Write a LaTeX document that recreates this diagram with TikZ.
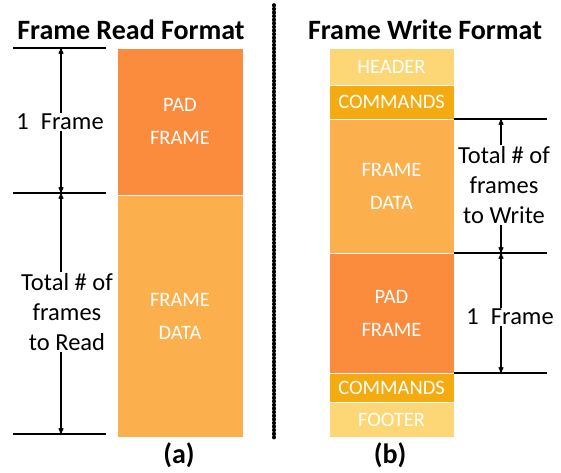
\documentclass[tikz,border=0pt]{standalone}
\usepackage{fontspec}
\setmainfont{Carlito}
\usetikzlibrary{
  positioning,
  arrows
}
\definecolor{padcol}{RGB}{251,139,61}
\definecolor{datacol}{RGB}{251,176,77}
\definecolor{hdrcol}{RGB}{253,214,117}
\definecolor{cmdcol}{RGB}{243,171,17}
\tikzset{
  >=stealth',
  node distance=0pt,
  block/.style={draw=white, line width=0.8pt, outer sep=0pt, inner sep=0pt,
    align=center, text=white, font=\fontsize{20.5}{33}\selectfont},
  readblk/.style={block, minimum width=126pt},
  writeblk/.style={block, minimum width=125pt},
  dimline/.style={line width=1.8pt},
  dimarrow/.style={->, line width=1.1pt},
  lbl/.style={align=center, inner sep=1pt, font=\fontsize{24.5}{30}\selectfont},
  title/.style={font=\fontsize{28}{30}\selectfont\bfseries}
}

\begin{document}
\begin{tikzpicture}[x=1pt, y=-1pt]
    \useasboundingbox (0,0) rectangle (561,472);
    % titles
    \node[title] (rtitle) at (131,30) {Frame Read Format};
    \node[title] (wtitle) at (425,30) {Frame Write Format};
    % read format
    \node[readblk, fill=padcol, minimum height=147pt, anchor=north] (rpad) at (180,48) {PAD\\FRAME};
    \node[readblk, fill=datacol, minimum height=242pt, below=of rpad] (rdata) {FRAME\\DATA};
    % write format
    \node[writeblk, fill=hdrcol, minimum height=37pt, anchor=north] (whdr) at (391.5,48) {HEADER};
    \node[writeblk, fill=cmdcol, minimum height=34pt, below=of whdr] (wcmd1) {COMMANDS};
    \node[writeblk, fill=datacol, minimum height=134pt, below=of wcmd1] (wdata) {FRAME\\DATA};
    \node[writeblk, fill=padcol, minimum height=120pt, below=of wdata] (wpad) {PAD\\FRAME};
    \node[writeblk, fill=cmdcol, minimum height=29pt, below=of wpad] (wcmd2) {COMMANDS};
    \node[writeblk, fill=hdrcol, minimum height=35pt, below=of wcmd2] (wftr) {FOOTER};
    % dimension lines, read side
    \coordinate (rl1) at (13,48);  \coordinate (rr1) at (106,48);
    \coordinate (rl2) at (13,193); \coordinate (rr2) at (106,193);
    \coordinate (rl3) at (13,434); \coordinate (rr3) at (106,434);
    \coordinate (ra1) at (61,48);
    \coordinate (ra2) at (61,193);
    \coordinate (ra3) at (61,434);
    \draw[dimline] (rl1) -- (rr1);
    \draw[dimline] (rl2) -- (rr2);
    \draw[dimline] (rl3) -- (rr3);
    \node[lbl] (rone) at (60,122) {1\enspace Frame};
    \node[lbl] (rtotal) at (67,312) {Total \# of\\frames\\to Read};
    \draw[dimarrow] (ra1 |- rone.north) -- (ra1);
    \draw[dimarrow] (ra1 |- rone.south) -- (ra2);
    \draw[dimarrow] (ra2 |- rtotal.north) -- (ra2);
    \draw[dimarrow] (ra2 |- rtotal.south) -- (ra3);
    % dimension lines, write side
    \coordinate (wl1) at (454,119); \coordinate (wr1) at (547,119);
    \coordinate (wl2) at (454,253); \coordinate (wr2) at (547,253);
    \coordinate (wl3) at (454,373); \coordinate (wr3) at (547,373);
    \coordinate (wa1) at (501,119);
    \coordinate (wa2) at (501,253);
    \coordinate (wa3) at (501,373);
    \draw[dimline] (wl1) -- (wr1);
    \draw[dimline] (wl2) -- (wr2);
    \draw[dimline] (wl3) -- (wr3);
    \node[lbl] (wtotal) at (504,185) {Total \# of\\frames\\to Write};
    \node[lbl] (wone) at (510,317) {1\enspace Frame};
    \draw[dimarrow] (wa1 |- wtotal.north) -- (wa1);
    \draw[dimarrow] (wa1 |- wtotal.south) -- (wa2);
    \draw[dimarrow] (wa2 |- wone.north) -- (wa2);
    \draw[dimarrow] (wa2 |- wone.south) -- (wa3);
    % divider
    \coordinate (dtop) at (274,5);
    \coordinate (dbot) at (274,438);
    \draw[line width=3.6pt, line cap=round, dash pattern=on 0.6pt off 3pt] (dtop) -- (dbot);
    % sub captions
    \node[title] (capa) at (179,455) {(a)};
    \node[title] (capb) at (390,455) {(b)};
\end{tikzpicture}
\end{document}
